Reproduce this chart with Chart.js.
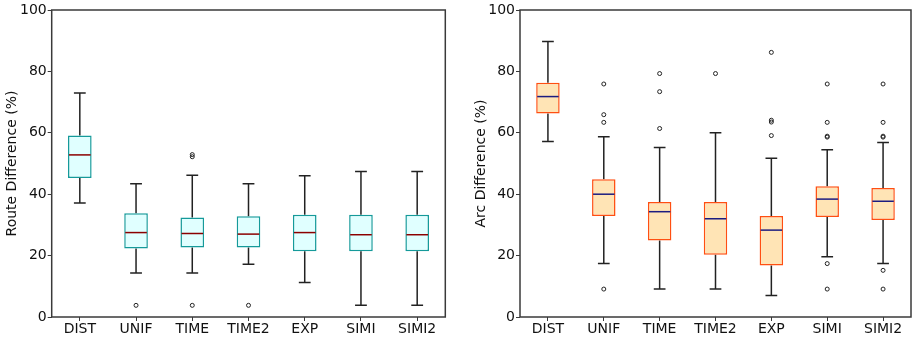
<!DOCTYPE html>
<html>
<head>
<meta charset="utf-8">
<script src="https://cdn.jsdelivr.net/npm/chart.js@4.4.1/dist/chart.umd.min.js"></script>
<style>
  html, body { margin: 0; padding: 0; background: #fff; overflow: hidden; width: 912px; height: 337px; }
  canvas { position: absolute; top: 0; }
  #routeChart { left: 0; }
  #arcChart { left: 456px; }
</style>
</head>
<body>
<canvas id="routeChart" width="456" height="337"></canvas>
<canvas id="arcChart" width="460" height="337"></canvas>
<script>
const categories = ["DIST", "UNIF", "TIME", "TIME2", "EXP", "SIMI", "SIMI2"];
const yTicks = [0, 20, 40, 60, 80, 100];

// route difference (left)
const routeLow = [37.1, 14.3, 14.3, 17.2, 11.2, 3.8, 3.8];
const routeQ1 = [45.3, 22.3, 22.6, 22.6, 21.4, 21.4, 21.4];
const routeMed = [52.8, 27.5, 27.2, 27.0, 27.5, 26.8, 26.8];
const routeQ3 = [59.1, 33.8, 32.4, 32.8, 33.3, 33.3, 33.3];
const routeHigh = [73.0, 43.4, 46.2, 43.4, 46.0, 47.4, 47.4];
const routeOutliers = [[], [3.8], [52.9, 52.2, 3.8], [3.8], [], [], []];

// arc difference (right)
const arcLow = [57.2, 17.4, 9.1, 9.1, 7.0, 19.6, 17.4];
const arcQ1 = [66.3, 32.9, 24.9, 20.3, 16.8, 32.6, 31.6];
const arcMed = [71.8, 40.0, 34.3, 32.0, 28.3, 38.4, 37.7];
const arcQ3 = [76.3, 44.9, 37.5, 37.5, 32.9, 42.6, 42.0];
const arcHigh = [89.7, 58.7, 55.2, 60.0, 51.7, 54.5, 56.8];
const arcOutliers = [[], [75.9, 65.9, 63.4, 9.1], [79.3, 73.4, 61.4], [79.3],
  [86.2, 64.1, 63.5, 59.1], [75.9, 63.4, 58.9, 58.6, 17.4, 9.1], [75.9, 63.4, 58.9, 58.6, 15.2, 9.1]];

const font = { family: "DejaVu Sans", size: 14 };
const axisColor = "#3a3a3a";

// whiskers + caps under the boxes, median lines and frame on top
const boxPlot = {
  id: "boxPlot",
  beforeDatasetsDraw(chart) {
    const { ctx, scales: { x, y } } = chart;
    const st = chart.data.datasets[0].stats;
    const meta = chart.getDatasetMeta(0);
    ctx.save();
    ctx.strokeStyle = "#222";
    ctx.lineWidth = 1.5;
    st.low.forEach((lo, i) => {
      const cx = x.getPixelForValue(i);
      const half = meta.data[i].width / 4;
      const yl = y.getPixelForValue(lo), yh = y.getPixelForValue(st.high[i]);
      const y1 = y.getPixelForValue(st.q1[i]), y3 = y.getPixelForValue(st.q3[i]);
      ctx.beginPath();
      ctx.moveTo(cx, y1); ctx.lineTo(cx, yl);
      ctx.moveTo(cx - half, yl); ctx.lineTo(cx + half, yl);
      ctx.moveTo(cx, y3); ctx.lineTo(cx, yh);
      ctx.moveTo(cx - half, yh); ctx.lineTo(cx + half, yh);
      ctx.stroke();
    });
    ctx.restore();
  },
  afterDatasetsDraw(chart) {
    const { ctx, chartArea: a, scales: { x, y } } = chart;
    const st = chart.data.datasets[0].stats;
    const meta = chart.getDatasetMeta(0);
    ctx.save();
    ctx.strokeStyle = st.medColor;
    ctx.lineWidth = 1.5;
    st.med.forEach((m, i) => {
      const cx = x.getPixelForValue(i);
      const half = meta.data[i].width / 2 - 1;
      const ym = y.getPixelForValue(m);
      ctx.beginPath();
      ctx.moveTo(cx - half, ym); ctx.lineTo(cx + half, ym);
      ctx.stroke();
    });
    ctx.strokeStyle = axisColor;
    ctx.lineWidth = 1.5;
    ctx.strokeRect(a.left, a.top, a.right - a.left, a.bottom - a.top);
    ctx.restore();
  }
};

function makeChart(id, title, stats, outliers, fill, edge, padding, axisWidth, titlePad) {
  const pts = [];
  outliers.forEach((list, i) => list.forEach(v => pts.push({ x: categories[i], y: v })));
  return new Chart(document.getElementById(id), {
    type: "bar",
    data: {
      labels: categories,
      datasets: [
        {
          data: stats.q1.map((v, i) => [v, stats.q3[i]]),
          stats: stats,
          backgroundColor: fill,
          borderColor: edge,
          borderWidth: 1.5,
          borderSkipped: false,
          barPercentage: 0.42,
          categoryPercentage: 1
        },
        {
          type: "line",
          data: pts,
          showLine: false,
          pointRadius: 2,
          pointBorderWidth: 1,
          pointBorderColor: "#222",
          pointBackgroundColor: "rgba(255,255,255,0)"
        }
      ]
    },
    options: {
      responsive: false,
      animation: false,
      devicePixelRatio: 1,
      layout: { padding: padding },
      plugins: { legend: { display: false }, tooltip: { enabled: false } },
      scales: {
        x: {
          offset: true,
          afterFit: s => { s.height = 20; },
          border: { display: false },
          grid: { offset: false, drawOnChartArea: false, tickLength: 4, tickColor: axisColor },
          ticks: { color: "#111", font: font, padding: 0, maxRotation: 0 }
        },
        y: {
          min: 0, max: 100,
          afterFit: s => { s.width = axisWidth; },
          afterBuildTicks: s => { s.ticks = yTicks.map(v => ({ value: v })); },
          border: { display: false },
          grid: { drawOnChartArea: false, tickLength: 4, tickColor: axisColor },
          ticks: { color: "#111", font: font, padding: 1 },
          title: { display: true, text: title, color: "#111", font: { family: "DejaVu Sans", size: 14, lineHeight: 1 }, padding: { top: titlePad, bottom: 0 } }
        }
      }
    },
    plugins: [boxPlot]
  });
}

makeChart("routeChart", "Route Difference (%)",
  { low: routeLow, q1: routeQ1, med: routeMed, q3: routeQ3, high: routeHigh, medColor: "#8b0000" },
  routeOutliers, "#e0ffff", "#159a9a", { top: 10, right: 10.7, left: 0, bottom: 0 }, 51.7, 5.8);

makeChart("arcChart", "Arc Difference (%)",
  { low: arcLow, q1: arcQ1, med: arcMed, q3: arcQ3, high: arcHigh, medColor: "#1c1c80" },
  arcOutliers, "#ffe4b5", "#ff4f12", { top: 10, right: 3.3, left: 0, bottom: 0 }, 64, 18.5);
</script>
</body>
</html>
